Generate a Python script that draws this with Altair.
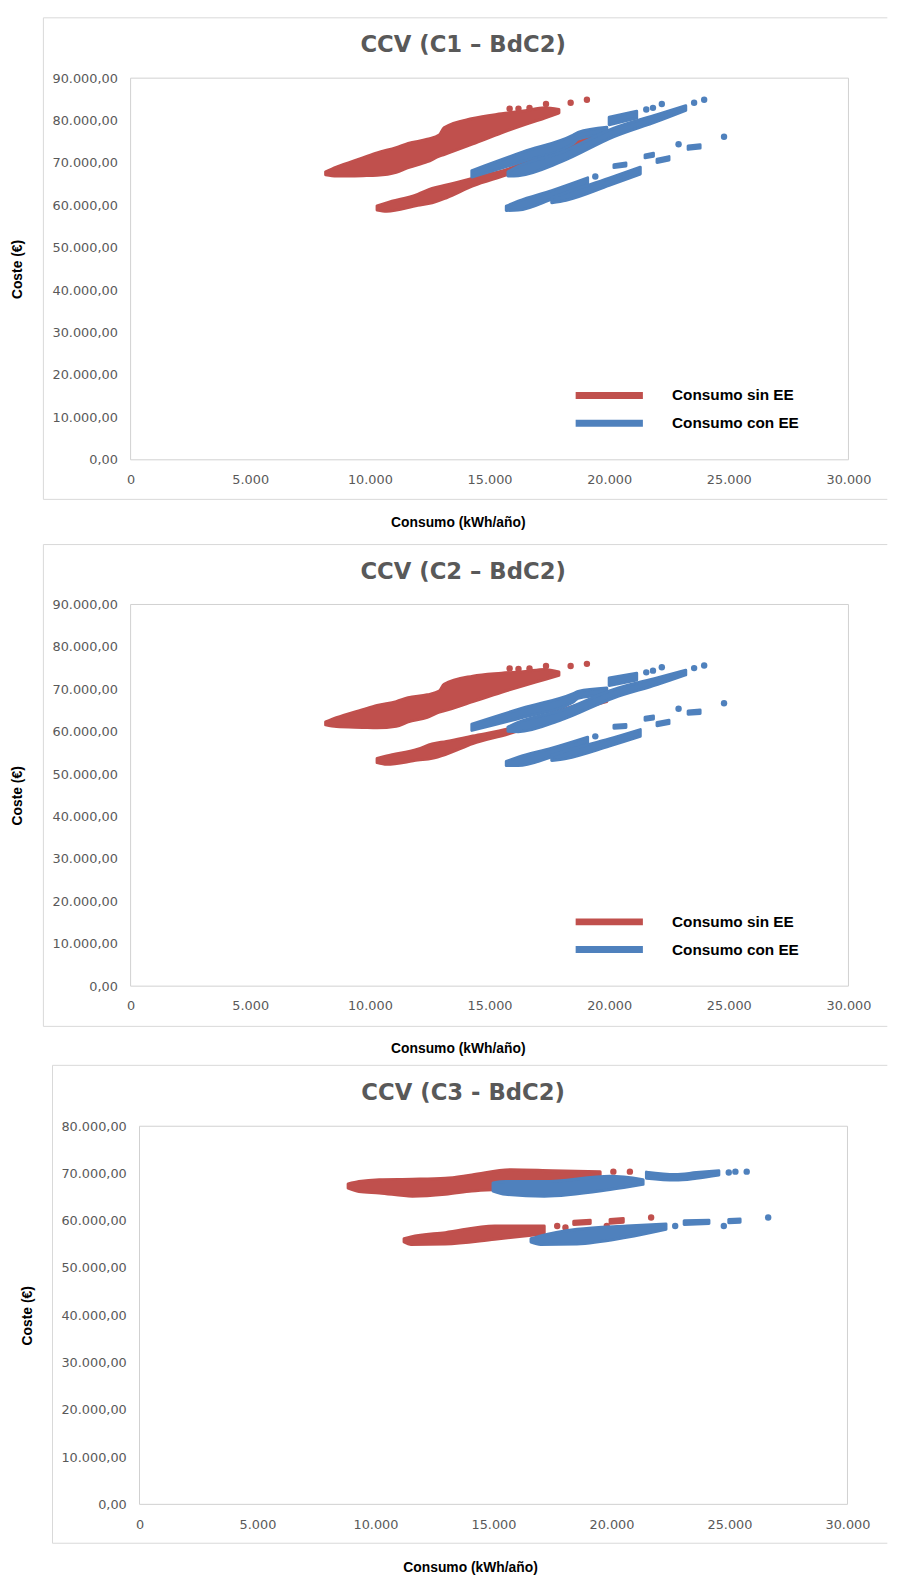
import altair as alt
import pandas as pd

RED = "#C0504D"
BLUE = "#4F81BD"
BORDER = "#d9d9d9"
FRAME = "#d0d0d0"
SERIES = ["Consumo sin EE", "Consumo con EE"]
TITLES = ["CCV (C1 – BdC2)", "CCV (C2 – BdC2)", "CCV (C3 - BdC2)"]
X_TITLE = "Consumo (kWh/año)"
Y_TITLE = "Coste (€)"
X_TICKS = [0, 5000, 10000, 15000, 20000, 25000, 30000]
Y_TICKS_90 = [0, 10000, 20000, 30000, 40000, 50000, 60000, 70000, 80000, 90000]
Y_TICKS_80 = [0, 10000, 20000, 30000, 40000, 50000, 60000, 70000, 80000]

# ---- chart 1 (C1 - BdC2): dense point clouds as (consumo, coste min, coste max)
C1_SIN_BANDS = [
    [(8150, 67200, 67900), (8600, 66900, 69000), (9700, 67000, 71200), (10300, 67100, 72400),
     (11100, 67800, 73600), (11600, 68900, 74600), (12400, 70300, 75600), (12900, 71600, 76600),
     (13100, 72000, 78300), (14300, 74500, 80500), (15500, 77100, 81600), (16500, 79100, 82300),
     (17300, 80600, 83000), (17900, 81800, 82600)],
    [(10300, 58900, 59900), (10700, 58600, 60600), (12000, 60000, 62600), (12600, 60600, 64000),
     (13200, 61800, 64800), (14300, 64600, 66400), (15800, 67400, 68600), (17200, 70600, 71800),
     (18700, 73900, 75000), (19900, 76200, 77000)],
]
C1_SIN_DOTS = [(15840, 82800), (16210, 82800), (16670, 83000), (17360, 83900), (18390, 84200), (19070, 84900)]
C1_CON_BANDS = [
    [(14260, 66700, 68200), (16400, 70400, 72600), (18500, 74600, 76600), (18700, 75600, 77200), (19900, 76800, 78400)],
    [(20000, 79000, 80800), (21150, 80600, 82200)],
    [(15770, 66900, 67900), (16200, 67000, 69200), (18000, 70300, 72500), (20200, 76200, 78200),
     (22000, 79800, 81400), (23200, 82400, 83500)],
    [(15700, 58800, 59800), (16200, 58900, 61000), (17600, 61500, 63500), (19100, 64900, 66500)],
    [(17600, 60600, 61800), (18200, 61200, 63000), (20000, 64700, 66400), (21300, 67400, 69000)],
    [(20200, 68900, 69600), (20700, 69300, 70000)],
    [(21500, 71200, 71900), (21850, 71600, 72300)],
    [(22000, 70100, 70900), (22500, 70700, 71500)],
    [(23300, 73200, 74000), (23800, 73500, 74300)],
]
C1_CON_DOTS = [(21550, 82600), (21830, 83000), (22200, 83900), (23550, 84200), (23970, 84900),
               (19420, 66800), (22900, 74400), (24800, 76200)]

# ---- chart 2 (C2 - BdC2)
C2_SIN_BANDS = [
    [(8150, 61600, 62300), (8600, 61200, 63300), (9700, 61000, 65200), (10300, 60900, 66200),
     (11100, 61300, 67100), (11600, 62300, 68000), (12400, 63400, 68700), (12900, 64600, 69600),
     (13100, 64900, 71200), (14300, 67100, 73100), (15500, 69300, 73800), (16500, 71000, 74200),
     (17300, 72300, 74700), (17900, 73300, 74100)],
    [(10300, 52700, 53700), (10700, 52300, 54300), (12000, 53300, 55900), (12600, 53700, 57100),
     (13200, 54700, 57700), (14300, 57200, 59000), (15800, 59500, 60700), (17200, 62300, 63500),
     (18700, 65200, 66300), (19900, 67100, 67900)],
]
C2_SIN_DOTS = [(15840, 74900), (16210, 74800), (16670, 74900), (17360, 75500), (18390, 75500), (19070, 76000)]
C2_CON_BANDS = [
    [(14260, 60300, 61800), (16400, 63400, 65600), (18500, 67000, 69000), (18700, 67900, 69500), (19900, 68700, 70300)],
    [(20000, 70900, 72700), (21150, 72200, 73800)],
    [(15770, 60100, 61100), (16200, 60000, 62200), (18000, 62800, 65000), (20200, 68000, 70000),
     (22000, 71100, 72700), (23200, 73400, 74500)],
    [(15700, 52000, 53000), (16200, 52000, 54000), (17600, 54100, 56100), (19100, 57100, 58700)],
    [(17600, 53200, 54400), (18200, 53700, 55500), (20000, 56600, 58300), (21300, 58900, 60500)],
    [(20200, 60800, 61500), (20700, 61000, 61700)],
    [(21500, 62700, 63400), (21850, 63000, 63700)],
    [(22000, 61400, 62200), (22500, 61900, 62700)],
    [(23300, 64100, 64900), (23800, 64300, 65100)],
]
C2_CON_DOTS = [(21550, 74000), (21830, 74400), (22200, 75200), (23550, 75000), (23970, 75600),
               (19420, 58900), (22900, 65400), (24800, 66700)]

# ---- chart 3 (C3 - BdC2)
C3_SIN_BANDS = [
    [(8840, 66900, 67800), (9300, 66200, 68300), (10160, 65900, 68700), (11560, 65200, 68800),
     (12960, 65600, 69000), (14080, 66300, 69700), (15750, 66800, 70800), (17500, 67800, 70600),
     (19520, 69400, 70400)],
    [(11210, 55500, 56200), (11500, 55000, 56600), (12960, 55100, 57500), (15050, 56100, 58900), (17150, 57200, 58900)],
    [(18400, 59200, 59900), (19100, 59400, 60100)],
    [(19940, 59500, 60300), (20500, 59700, 60500)],
]
C3_SIN_DOTS = [(20080, 70400), (20780, 70400), (17700, 58900), (18050, 58600), (19800, 58900), (21680, 60700)]
C3_CON_BANDS = [
    [(14980, 66300, 68000), (15500, 65600, 68300), (17150, 65200, 68300), (19940, 66600, 69400), (21340, 67700, 68700)],
    [(21480, 69000, 70300), (22700, 68600, 69800), (23600, 69000, 70200), (24550, 69700, 70600)],
    [(16590, 55500, 56200), (17000, 55000, 56800), (18540, 55100, 58200), (20640, 56500, 58900), (22310, 58200, 59300)],
    [(23080, 59200, 60000), (24130, 59400, 60100)],
    [(24970, 59600, 60300), (25450, 59700, 60400)],
]
C3_CON_DOTS = [(24970, 70200), (25250, 70400), (25730, 70400), (22700, 58900), (24760, 58900), (26640, 60700)]


def bands_frame(bands, serie):
    rows = []
    for i, band in enumerate(bands):
        for x, lo, hi in band:
            rows.append({"band": i, "x": x, "lo": lo, "hi": hi, "serie": serie})
    return pd.DataFrame(rows)


def dots_frame(dots, serie):
    return pd.DataFrame([{"x": x, "y": y, "serie": serie} for x, y in dots])


X_LABEL = "replace(format(datum.value, ',d'), ',', '.')"
Y_LABEL = "replace(replace(replace(format(datum.value, ',.2f'), ',', '#'), '.', ','), '#', '.')"
COLOR_SCALE = alt.Scale(domain=SERIES, range=[RED, BLUE])
ONE = pd.DataFrame({"k": [0]})


def rule(**enc):
    return alt.Chart(ONE).mark_rule(color=enc.pop("color", BORDER), strokeWidth=1).encode(
        **{k: alt.value(v) for k, v in enc.items()})


def panel(title, sin_bands, sin_dots, con_bands, con_dots, y_ticks, g):
    W, H = g["W"], g["H"]
    x0, x1 = g["xr"]          # plot area inside the group
    y0, y1 = g["yr"]

    def X():
        return alt.X("x:Q", scale=alt.Scale(domain=[0, 30000], nice=False, range=[x0, x1]),
                     axis=alt.Axis(values=X_TICKS, labelExpr=X_LABEL, title=X_TITLE,
                                   titleX=g["xt"][0], titleY=g["xt"][1],
                                   titleBaseline="middle", titleAlign="center"))

    def Y(field):
        return alt.Y(field, scale=alt.Scale(domain=[0, y_ticks[-1]], nice=False, range=[y1, y0]),
                     axis=alt.Axis(values=y_ticks, labelExpr=Y_LABEL, title=Y_TITLE, offset=-x0,
                                   titleAngle=270, titleX=g["yt"], titleY=(y0 + y1) / 2,
                                   titleBaseline="middle", titleAlign="center"))

    if g["lg"] is not None:
        leg = alt.Legend(title=None, orient="none", legendX=g["lg"][0], legendY=g["lg"][1],
                         symbolType="stroke", symbolSize=4624, symbolStrokeWidth=7,
                         labelFont="Liberation Sans", labelFontSize=15.5, labelFontWeight="bold",
                         labelColor="black", labelOffset=26, clipHeight=20, rowPadding=8,
                         padding=0, symbolOffset=0, direction="vertical")
    else:
        leg = None

    L, T, B, R = g["box"]
    layers = [
        # outer chart border (right side lies beyond the page)
        rule(x=L, x2=R, y=T), rule(x=L, x2=R, y=B), rule(x=L, y=T, y2=B),
        # plot-area frame
        rule(color=FRAME, x=x0, x2=x1, y=y0), rule(color=FRAME, x=x0, x2=x1, y=y1),
        rule(color=FRAME, x=x0, y=y0, y2=y1), rule(color=FRAME, x=x1, y=y0, y2=y1),
        alt.Chart(pd.DataFrame({"t": [title]})).mark_text(
            font="DejaVu Sans", fontSize=23, fontWeight="bold", color="#595959",
            baseline="alphabetic", align="center").encode(
            x=alt.value(g["tt"][0]), y=alt.value(g["tt"][1]), text="t:N"),
    ]
    if g.get("anchor"):
        ax, ay = g["anchor"]
        layers.append(alt.Chart(ONE).mark_rule(strokeOpacity=0, strokeWidth=1).encode(
            x=alt.value(ax + 0.5), x2=alt.value(ax + 10), y=alt.value(ay + 0.5)))

    for bands, dots, serie in [(sin_bands, sin_dots, SERIES[0]), (con_bands, con_dots, SERIES[1])]:
        layers.append(
            alt.Chart(bands_frame(bands, serie)).mark_area(
                strokeWidth=3, strokeJoin="round", interpolate="monotone", opacity=1).encode(
                x=X(), y=Y("lo:Q"), y2="hi:Q",
                fill=alt.Fill("serie:N", scale=COLOR_SCALE, legend=leg),
                stroke=alt.Stroke("serie:N", scale=COLOR_SCALE, legend=leg),
                detail="band:N"))
        layers.append(
            alt.Chart(dots_frame(dots, serie)).mark_circle(size=42, opacity=1).encode(
                x=X(), y=Y("y:Q"),
                fill=alt.Fill("serie:N", scale=COLOR_SCALE, legend=leg)))
    return alt.layer(*layers).properties(width=W, height=H)


# geometry (px, relative to each panel's group origin)
G1 = {"W": 726, "H": 386, "xr": (0, 726), "yr": (0, 386),
      "xt": (330.9, 63.3), "yt": -114.2, "lg": (446.6, 311), "box": (-88.2, -61, 426, 765.3),
      "tt": (336.3, -26.7), "anchor": (-123.7, -62)}
G2 = {"W": 726, "H": 391.3, "xr": (0, 726), "yr": (5.3, 391.3),
      "xt": (330.9, 63.2), "yt": -114.5, "lg": (446.6, 316.3), "box": (-88.2, -55.3, 432, 765.3),
      "tt": (336.3, -20.5)}
G3 = {"W": 725, "H": 382.4, "xr": (9, 725), "yr": (0, 382.4),
      "xt": (343.3, 64.3), "yt": -113.2, "lg": None, "box": (-79, -61.6, 421.7, 765.3),
      "tt": (336.3, -26.5)}

p1 = panel(TITLES[0], C1_SIN_BANDS, C1_SIN_DOTS, C1_CON_BANDS, C1_CON_DOTS, Y_TICKS_90, G1)
p2 = panel(TITLES[1], C2_SIN_BANDS, C2_SIN_DOTS, C2_CON_BANDS, C2_CON_DOTS, Y_TICKS_90, G2)
p3 = panel(TITLES[2], C3_SIN_BANDS, C3_SIN_DOTS, C3_CON_BANDS, C3_CON_DOTS, Y_TICKS_80, G3)

chart = alt.vconcat(p1, p2, p3, spacing=141, bounds="flush").resolve_scale(
    fill="independent", stroke="independent").resolve_legend(
    fill="independent", stroke="independent").properties(padding=0)

chart = chart.configure_view(stroke="transparent").configure_axis(
    domain=False, ticks=False, tickSize=0, grid=False,
    labelFont="DejaVu Sans", labelFontSize=13, labelColor="#595959",
    titleFont="Liberation Sans", titleFontSize=14, titleFontWeight="bold", titleColor="black",
    labelFlush=False, labelOverlap=False,
).configure_axisX(labelPadding=14).configure_axisY(labelPadding=13.4)

chart.save("out.html", embed_options={"renderer": "svg", "actions": False})
